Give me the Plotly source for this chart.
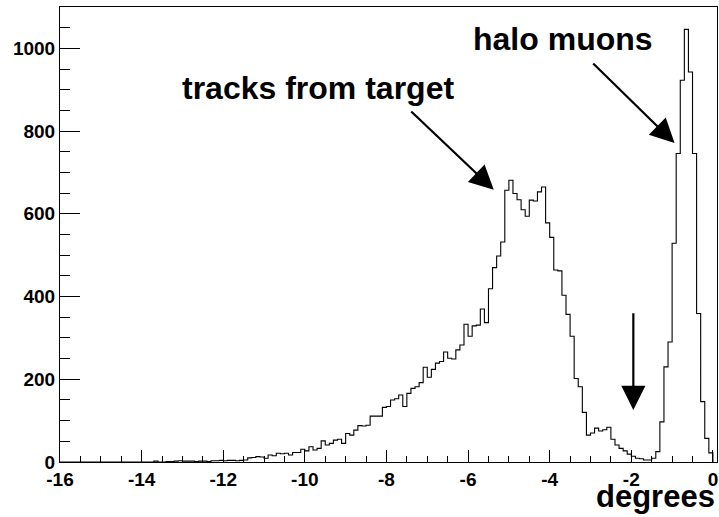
import numpy as np
import plotly.graph_objects as go

# Histogram: bins of 0.1 degree from -16 to 0
bin_start = -16.0
bin_width = 0.1
counts = [0] * 23 + [
    2, 0, 0, 1, 1, 2, 3, 2, 2, 2,
    1, 2, 2, 1, 3, 3, 4, 3, 4, 4,
    3, 4, 5, 10, 11, 13, 12, 9, 17, 15,
    21, 20, 21, 17, 23, 23, 31, 27, 37, 29,
    33, 51, 41, 45, 53, 55, 45, 69, 65, 77,
    88, 87, 89, 111, 111, 111, 132, 134, 150, 153,
    162, 134, 166, 178, 182, 192, 229, 205, 224, 239,
    243, 266, 251, 249, 271, 283, 333, 304, 329, 331,
    370, 337, 419, 470, 498, 532, 657, 681, 649, 634,
    610, 594, 633, 631, 653, 665, 578, 543, 464, 462,
    403, 357, 304, 202, 182, 120, 65, 70, 82, 75,
    78, 84, 55, 41, 33, 27, 19, 14, 9, 8,
    5, 5, 9, 25, 97, 230, 290, 529, 746, 923,
    1046, 943, 746, 359, 146, 57, 22,
]

x_tick_vals = [-16, -14, -12, -10, -8, -6, -4, -2, 0]
x_tick_text = ["-16", "-14", "-12", "-10", "-8", "-6", "-4", "-2", "0"]
y_tick_vals = [0, 200, 400, 600, 800, 1000]
y_tick_text = ["0", "200", "400", "600", "800", "1000"]
x_title = "degrees"

# annotations: (text, x, y)
label_tracks = ("tracks from target", -9.69, 904)
label_halo = ("halo muons", -3.68, 1022)
# arrows: (tail_x, tail_y, tip_x, tip_y)
arrow_tracks = (-7.43, 851, -5.37, 658)
arrow_halo = (-2.97, 967, -0.94, 771)
arrow_gap = (-1.95, 363, -1.95, 126)

n = len(counts)
edges = bin_start + bin_width * np.arange(n + 1)
xs = np.concatenate([[edges[0]], edges])
ys = np.concatenate([[0], counts, [0]])

fig = go.Figure()
fig.add_trace(go.Scatter(
    x=xs, y=ys, mode="lines", line=dict(shape="hv", color="black", width=1.1),
    hoverinfo="skip", showlegend=False, cliponaxis=False,
))

FONT = "Liberation Sans, Arial, Helvetica, sans-serif"

fig.update_layout(
    width=719, height=517,
    margin=dict(l=60, r=2, t=7, b=55, autoexpand=False),
    paper_bgcolor="white", plot_bgcolor="white",
    showlegend=False,
    xaxis=dict(
        range=[-16, 0.1], tickvals=x_tick_vals, ticktext=x_tick_text,
        ticks="inside", ticklen=12,
        tickcolor="black", tickwidth=1, automargin=False,
        minor=dict(dtick=0.5, ticks="inside", ticklen=6, tickcolor="black", tickwidth=1),
        showgrid=False, zeroline=False, showline=True, linecolor="black",
        linewidth=1, mirror=True,
        tickfont=dict(family=FONT, size=19, color="black", weight="bold"),
    ),
    yaxis=dict(
        range=[0, 1100], tickvals=y_tick_vals, ticktext=y_tick_text,
        ticks="inside", ticklen=20,
        tickcolor="black", tickwidth=1, automargin=False,
        minor=dict(dtick=50, ticks="inside", ticklen=10, tickcolor="black", tickwidth=1),
        showgrid=False, zeroline=False, showline=True, linecolor="black",
        linewidth=1, mirror=True,
        tickfont=dict(family=FONT, size=19, color="black", weight="bold"),
    ),
)

annots = []
for text, x, y in (label_tracks, label_halo):
    annots.append(dict(
        x=x, y=y, xref="x", yref="y", text=text, showarrow=False,
        font=dict(family=FONT, size=32, color="black", weight="bold"),
        xanchor="center", yanchor="middle",
    ))
for tx, ty, hx, hy in (arrow_tracks, arrow_halo, arrow_gap):
    annots.append(dict(
        x=hx, y=hy, ax=tx, ay=ty, xref="x", yref="y", axref="x", ayref="y",
        text="", showarrow=True, arrowhead=2, arrowsize=2.2, arrowwidth=2.2,
        arrowcolor="black", standoff=0, startstandoff=0,
    ))
annots.append(dict(
    x=1, y=0, xref="paper", yref="paper", text=x_title, showarrow=False,
    xanchor="right", yanchor="top", yshift=-15, xshift=0,
    font=dict(family=FONT, size=31, color="black", weight="bold"),
))
fig.update_layout(annotations=annots)

fig.write_html(
    "out.html",
    config={"displayModeBar": False},
    post_script="document.body.style.margin='0';document.body.style.overflow='hidden';",
)
